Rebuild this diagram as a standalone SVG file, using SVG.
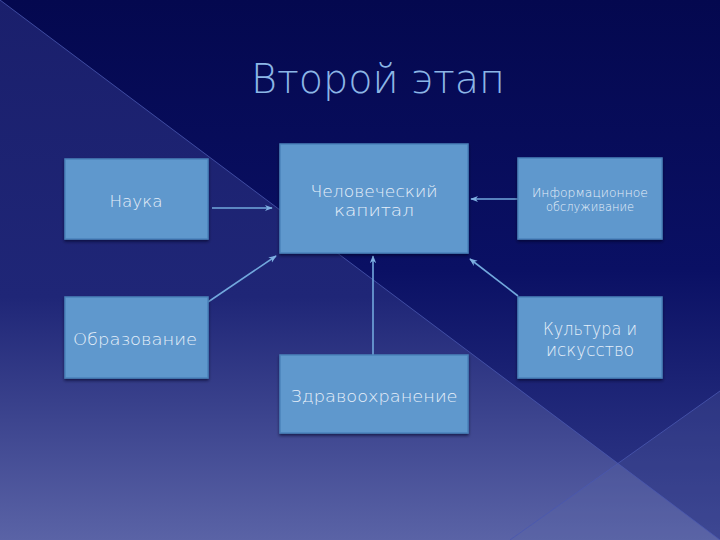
<svg xmlns="http://www.w3.org/2000/svg" width="720" height="540" viewBox="0 0 720 540">
<defs>
<linearGradient id="bgL" x1="0" y1="0" x2="0" y2="1">
<stop offset="0" stop-color="#1a1f6c"/>
<stop offset="0.55" stop-color="#1f2677"/>
<stop offset="1" stop-color="#5a63a6"/>
</linearGradient>
<linearGradient id="bgD" x1="0" y1="0" x2="0" y2="540" gradientUnits="userSpaceOnUse">
<stop offset="0" stop-color="#04084f"/>
<stop offset="0.5" stop-color="#0a1064"/>
<stop offset="1" stop-color="#343d8c"/>
</linearGradient>
<marker id="arr" viewBox="0 0 10 10" refX="9" refY="5" markerWidth="5" markerHeight="5" orient="auto">
<path d="M0,1 L10,5 L0,9 L3,5 Z" fill="#7fb0e2"/>
</marker>
<filter id="sh" x="-10%" y="-10%" width="120%" height="130%">
<feDropShadow dx="0" dy="2" stdDeviation="1.5" flood-color="#000020" flood-opacity="0.6"/>
</filter>
<style>
.box{fill:#5f98cd;stroke:#4b82bb;stroke-width:1.5;filter:url(#sh)}
.t{font-family:"DejaVu Sans","Liberation Sans",sans-serif;font-weight:200;fill:#e6eff9;text-anchor:middle}
.c{stroke:#72a8dd;stroke-width:1.6;fill:none;marker-end:url(#arr)}
.dl{stroke:#4a58b0;stroke-width:1;opacity:0.8}
</style>
</defs>

<g id="background">
<rect width="720" height="540" fill="url(#bgL)"/>
<polygon points="0,0 720,0 720,540" fill="url(#bgD)"/>
<polygon points="510,540 720,391 720,540" fill="#5d66a8" opacity="0.25"/>
<line class="dl" x1="0" y1="0" x2="720" y2="540"/>
<line class="dl" x1="510" y1="540" x2="720" y2="391"/>
</g>

<text id="title" x="378" y="93" class="t" style="fill:#8cb6e6;font-size:40px" textLength="254" lengthAdjust="spacingAndGlyphs">Второй этап</text>

<g id="connectors">
<line class="c" x1="212" y1="208" x2="272" y2="208"/>
<line class="c" x1="518" y1="199" x2="471" y2="199"/>
<line class="c" x1="518" y1="296" x2="470" y2="259"/>
<line class="c" x1="208" y1="302" x2="276" y2="256"/>
<line class="c" x1="373" y1="355" x2="373" y2="256"/>
</g>

<g id="nauka">
<rect class="box" x="65" y="159" width="143" height="80"/>
<text class="t" x="136" y="207" style="font-size:16px" textLength="53" lengthAdjust="spacingAndGlyphs">Наука</text>
</g>

<g id="chelovecheskiy-kapital">
<rect class="box" x="280" y="144" width="188" height="109"/>
<text class="t" x="374" y="197" style="font-size:16px" textLength="127" lengthAdjust="spacingAndGlyphs">Человеческий</text>
<text class="t" x="374" y="216" style="font-size:16px" textLength="80" lengthAdjust="spacingAndGlyphs">капитал</text>
</g>

<g id="informatsionnoe">
<rect class="box" x="518" y="158" width="144" height="81"/>
<text class="t" x="590" y="197" style="font-size:12px" textLength="116" lengthAdjust="spacingAndGlyphs">Информационное</text>
<text class="t" x="590" y="211" style="font-size:12px" textLength="88" lengthAdjust="spacingAndGlyphs">обслуживание</text>
</g>

<g id="kultura">
<rect class="box" x="518" y="297" width="144" height="81"/>
<text class="t" x="590" y="335" style="font-size:17px" textLength="94" lengthAdjust="spacingAndGlyphs">Культура и</text>
<text class="t" x="590" y="356" style="font-size:17px" textLength="88" lengthAdjust="spacingAndGlyphs">искусство</text>
</g>

<g id="obrazovanie">
<rect class="box" x="65" y="297" width="143" height="81"/>
<text class="t" x="135" y="345" style="font-size:16px" textLength="124" lengthAdjust="spacingAndGlyphs">Образование</text>
</g>

<g id="zdravookhranenie">
<rect class="box" x="280" y="355" width="188" height="78"/>
<text class="t" x="374" y="402" style="font-size:16px" textLength="167" lengthAdjust="spacingAndGlyphs">Здравоохранение</text>
</g>
</svg>
